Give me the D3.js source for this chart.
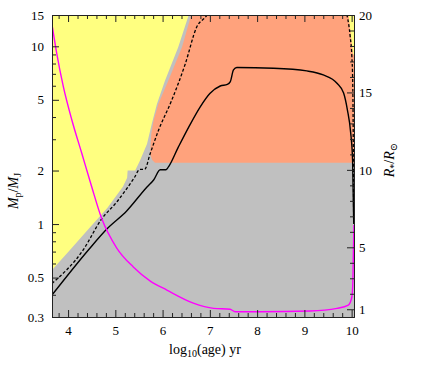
<!DOCTYPE html>
<html>
<head>
<meta charset="utf-8">
<script src="https://cdn.jsdelivr.net/npm/d3@7"></script>
<style>
  body { margin: 0; background: #fff; }
  text { font-family: "Liberation Serif", "Times New Roman", Times, "DejaVu Serif", serif; }
</style>
</head>
<body>
<svg id="chart" width="433" height="374"></svg>
<script>
// [log10 age, M_p/M_J] edge of the yellow region
const yellowEdge = [[3.66, 0.552], [4.04, 0.715], [4.47, 0.963], [4.83, 1.23], [5.16, 1.62],
    [5.25, 1.82], [5.26, 2.0], [5.42, 2.0], [5.52, 2.27], [5.67, 2.82], [5.77, 3.66],
    [5.88, 4.74], [6.05, 6.41], [6.33, 9.88], [6.57, 15.5]];
// yellow sliver at the top right
const yellowRight = [[9.93, 15.5], [10.1, 15.5], [10.1, 9], [10.03, 9], [9.985, 11.5]];
// edge of the salmon region
const salmonEdge = [[6.62, 15.5], [6.41, 9.88], [6.12, 6.41], [5.91, 4.74], [5.81, 3.82],
    [5.76, 3.21], [5.735, 2.48], [5.78, 2.29], [5.84, 2.21], [10.1, 2.21]];

// black curves, in M_p/M_J
const solidLine = [[3.66, 0.399], [4.43, 0.715], [4.82, 0.938], [5.24, 1.185], [5.67, 1.617],
    [5.81, 1.77], [5.95, 2.02], [6.07, 2.02], [6.12, 2.09], [6.33, 2.70], [6.55, 3.50],
    [6.79, 4.54], [7.0, 5.43], [7.22, 5.98], [7.37, 6.10], [7.43, 6.30], [7.50, 7.36],
    [7.57, 7.60], [8.35, 7.53], [9.05, 7.27], [9.40, 6.90], [9.69, 6.20], [9.83, 5.46],
    [9.91, 4.39], [9.98, 3.26], [10.02, 2.29], [10.045, 1.0]];
const dashedLine = [[3.66, 0.463], [4.32, 0.715], [4.71, 1.068], [5.03, 1.331], [5.40, 1.82],
    [5.52, 2.03], [5.62, 2.03], [5.735, 2.48], [5.91, 3.35], [6.19, 4.95], [6.48, 7.96],
    [6.72, 12.8], [6.94, 15], [7.0, 16]];
const dashedLineEnd = [[9.85, 16], [9.90, 15], [9.97, 11.3], [10.005, 8.75], [10.022, 6.47],
    [10.033, 3.42], [10.043, 1.0]];

// magenta curve, in R*/Rsun (right axis)
const starRadius = [[3.67, 19.2], [3.76, 17.52], [3.90, 15.37], [4.08, 13.22], [4.29, 11.07],
    [4.50, 8.91], [4.71, 6.87], [5.03, 4.95], [5.38, 3.73], [5.74, 2.82], [6.09, 2.24],
    [6.65, 1.40], [7.08, 1.06], [7.43, 1.0], [7.535, 0.84], [8.06, 0.84], [9.12, 0.89],
    [9.69, 1.06], [9.93, 1.27], [10.005, 1.79], [10.027, 2.89], [10.048, 6.44]];

const xTicks = [4, 5, 6, 7, 8, 9, 10];
const massTicks = [0.3, 0.5, 1, 2, 5, 10, 15];
const massMinor = [0.4, 0.6, 0.7, 0.8, 0.9, 3, 4, 6, 7, 8, 9];
const radiusTicks = [1, 5, 10, 15, 20];

const serif = '"Liberation Serif", "Times New Roman", Times, serif';

const margin = { top: 15, right: 79, bottom: 57, left: 52 };
const width = 433 - margin.left - margin.right;
const height = 374 - margin.top - margin.bottom;

const svg = d3.select("#chart");
const g = svg.append("g").attr("transform", `translate(${margin.left},${margin.top})`);

const x = d3.scaleLinear().domain([3.66, 10.05]).range([0, width]);
const y = d3.scaleLog().domain([0.3, 15]).range([height, 0]);
const yR = d3.scaleLinear().domain([0.5, 20]).range([height, 0]);

svg.append("defs").append("clipPath").attr("id", "plotClip")
    .append("rect").attr("width", width).attr("height", height);

const plot = g.append("g").attr("clip-path", "url(#plotClip)");

plot.append("rect").attr("width", width).attr("height", height).attr("fill", "#c0c0c0");

const massPath = d3.line().x(d => x(d[0])).y(d => y(d[1]));

// yellow top-left region
plot.append("path")
    .attr("d", massPath([[3.5, 16], [3.5, yellowEdge[0][1]]].concat(yellowEdge).concat([[yellowEdge[yellowEdge.length - 1][0], 16]])) + "Z")
    .attr("fill", "#ffff80");

// salmon region
plot.append("path")
    .attr("d", massPath(salmonEdge.concat([[10.1, 16], [6.6, 16]])) + "Z")
    .attr("fill", "#ffa27c");

plot.append("path")
    .attr("d", massPath(yellowRight) + "Z")
    .attr("fill", "#ffff80");

const massCurve = d3.line().x(d => x(d[0])).y(d => y(d[1])).curve(d3.curveMonotoneX);

plot.append("path").attr("d", massCurve(solidLine))
    .attr("fill", "none").attr("stroke", "#000").attr("stroke-width", 1.4);

[dashedLine, dashedLineEnd].forEach(function (dl) {
    plot.append("path").attr("d", massCurve(dl))
        .attr("fill", "none").attr("stroke", "#000").attr("stroke-width", 1.3)
        .attr("stroke-dasharray", "3,2");
});

const radiusCurve = d3.line().x(d => x(d[0])).y(d => yR(d[1])).curve(d3.curveMonotoneX);
plot.append("path").attr("d", radiusCurve(starRadius))
    .attr("fill", "none").attr("stroke", "#ff00ff").attr("stroke-width", 1.4);

// axes
function styleAxis(sel) {
    sel.attr("font-family", serif);
    sel.selectAll("path").attr("stroke", "#222");
    sel.selectAll("line").attr("stroke", "#222");
    sel.selectAll("text").attr("font-size", 13).attr("fill", "#000");
}

const xMinor = d3.range(19, 51).map(i => i / 5).filter(v => Math.abs(v - Math.round(v)) > 1e-6);
const rMinor = d3.range(2, 20).filter(v => v % 5 !== 0);

g.append("g").attr("transform", `translate(0,${height})`)
    .call(d3.axisBottom(x).tickValues(xMinor).tickSize(-4).tickSizeOuter(0).tickFormat(""))
    .call(styleAxis);
g.append("g").attr("transform", `translate(0,${height})`)
    .call(d3.axisBottom(x).tickValues(xTicks).tickSize(-7).tickSizeOuter(0).tickPadding(9).tickFormat(d3.format("d")))
    .call(styleAxis);

g.append("g")
    .call(d3.axisTop(x).tickValues(xMinor).tickSize(-4).tickSizeOuter(0).tickFormat(""))
    .call(styleAxis);
g.append("g")
    .call(d3.axisTop(x).tickValues(xTicks).tickSize(-7).tickSizeOuter(0).tickFormat(""))
    .call(styleAxis);

g.append("g")
    .call(d3.axisLeft(y).tickValues(massMinor).tickSize(-4).tickSizeOuter(0).tickFormat(""))
    .call(styleAxis);
g.append("g")
    .call(d3.axisLeft(y).tickValues(massTicks).tickSize(-7).tickSizeOuter(0).tickPadding(8).tickFormat(d3.format("~g")))
    .call(styleAxis);

g.append("g").attr("transform", `translate(${width},0)`)
    .call(d3.axisRight(yR).tickValues(rMinor).tickSize(-4).tickSizeOuter(0).tickFormat(""))
    .call(styleAxis);
g.append("g").attr("transform", `translate(${width},0)`)
    .call(d3.axisRight(yR).tickValues(radiusTicks).tickSize(-7).tickSizeOuter(0).tickPadding(5).tickFormat(d3.format("d")))
    .call(styleAxis);

// axis titles
const xTitle = svg.append("text")
    .attr("x", margin.left + width / 2 + 2).attr("y", 354)
    .attr("text-anchor", "middle").attr("font-size", 14).attr("font-family", serif);
xTitle.append("tspan").text("log");
xTitle.append("tspan").attr("font-size", 10).attr("dy", 3).text("10");
xTitle.append("tspan").attr("dy", -3).text("(age) yr");

const yTitle = svg.append("text")
    .attr("transform", "translate(18,191) rotate(-90)")
    .attr("text-anchor", "middle").attr("font-size", 14).attr("font-family", serif);
yTitle.append("tspan").attr("font-style", "italic").text("M");
yTitle.append("tspan").attr("font-size", 10).attr("dy", 3).text("p");
yTitle.append("tspan").attr("dy", -3).text("/");
yTitle.append("tspan").attr("font-style", "italic").text("M");
yTitle.append("tspan").attr("font-size", 10).attr("dy", 3).text("J");

const rTitle = svg.append("text")
    .attr("transform", "translate(394,160) rotate(-90)")
    .attr("text-anchor", "middle").attr("font-size", 14).attr("font-family", serif);
rTitle.append("tspan").attr("font-style", "italic").text("R");
rTitle.append("tspan").attr("font-size", 10).attr("dy", 3).text("*");
rTitle.append("tspan").attr("dy", -3).text("/");
rTitle.append("tspan").attr("font-style", "italic").text("R");
rTitle.append("tspan").attr("font-size", 10).attr("dy", 3).text("⊙");
</script>
</body>
</html>
